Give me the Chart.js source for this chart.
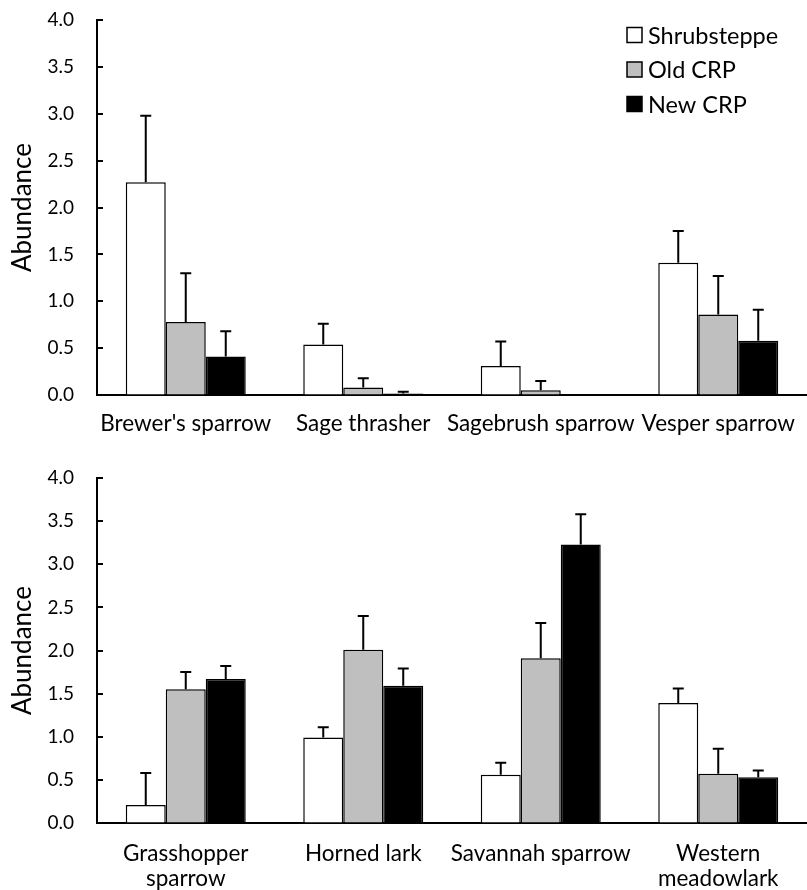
<!DOCTYPE html>
<html>
<head>
<meta charset="utf-8">
<script src="https://cdn.jsdelivr.net/npm/chart.js@4.4.1/dist/chart.umd.min.js"></script>
<style>
body { margin: 0; background: #fff; }
.wrap { position: absolute; left: 0; width: 807px; height: 445px; }
</style>
</head>
<body>
<div class="wrap" style="top:0"><canvas id="topChart" width="807" height="445"></canvas></div>
<div class="wrap" style="top:445px"><canvas id="bottomChart" width="807" height="445"></canvas></div>
<script>
var seriesNames = ['Shrubsteppe', 'Old CRP', 'New CRP'];
var seriesColors = ['#ffffff', '#bfbfbf', '#000000'];
var yTicks = [0, 0.5, 1, 1.5, 2, 2.5, 3, 3.5, 4];

// upper panel: shrubsteppe birds
var topSpecies = ["Brewer's sparrow", 'Sage thrasher', 'Sagebrush sparrow', 'Vesper sparrow'];
var topShrub = [2.27, 0.54, 0.31, 1.41];
var topShrubErr = [0.71, 0.22, 0.26, 0.34];
var topOld = [0.78, 0.08, 0.05, 0.86];
var topOldErr = [0.52, 0.10, 0.10, 0.41];
var topNew = [0.41, 0.015, 0, 0.58];
var topNewErr = [0.27, 0.02, 0, 0.33];

// lower panel: grassland birds
var bottomSpecies = [['Grasshopper', 'sparrow'], 'Horned lark', 'Savannah sparrow', ['Western', 'meadowlark']];
var bottomShrub = [0.21, 0.99, 0.56, 1.39];
var bottomShrubErr = [0.37, 0.12, 0.14, 0.17];
var bottomOld = [1.55, 2.01, 1.91, 0.57];
var bottomOldErr = [0.20, 0.39, 0.41, 0.29];
var bottomNew = [1.67, 1.59, 3.23, 0.53];
var bottomNewErr = [0.15, 0.20, 0.35, 0.08];

var FONT = 'Lato, "Noto Sans", sans-serif';
var CLEAR = 'rgba(0,0,0,0)';

var errorBars = {
    id: 'errorBars',
    afterDatasetsDraw: function(chart) {
        var ctx = chart.ctx;
        var yScale = chart.scales.y;
        ctx.save();
        ctx.strokeStyle = '#000';
        ctx.lineWidth = 2;
        chart.data.datasets.forEach(function(ds, i) {
            var meta = chart.getDatasetMeta(i);
            meta.data.forEach(function(bar, j) {
                var err = ds.errors[j];
                if (!err) return;
                var top = yScale.getPixelForValue(ds.data[j] + err);
                ctx.beginPath();
                ctx.moveTo(bar.x, bar.y);
                ctx.lineTo(bar.x, top);
                ctx.moveTo(bar.x - 5.5, top);
                ctx.lineTo(bar.x + 5.5, top);
                ctx.stroke();
            });
        });
        ctx.restore();
    }
};

// short tick marks pointing into the plot
var innerTicks = {
    id: 'innerTicks',
    afterDraw: function(chart) {
        var ctx = chart.ctx;
        var yScale = chart.scales.y;
        var left = chart.chartArea.left;
        ctx.save();
        ctx.strokeStyle = '#000';
        ctx.lineWidth = 2;
        yScale.ticks.forEach(function(t) {
            var py = Math.round(yScale.getPixelForValue(t.value));
            ctx.beginPath();
            ctx.moveTo(left, py);
            ctx.lineTo(left + 6, py);
            ctx.stroke();
        });
        ctx.restore();
    }
};

var boxLegend = {
    id: 'boxLegend',
    afterDraw: function(chart) {
        if (!chart.options.plugins.boxLegend.show) return;
        var ctx = chart.ctx;
        ctx.save();
        ctx.font = '23.5px ' + FONT;
        ctx.textBaseline = 'middle';
        chart.data.datasets.forEach(function(ds, i) {
            var cy = 35 + i * 34.5;
            ctx.fillStyle = ds.backgroundColor;
            ctx.fillRect(627, cy - 7.5, 15, 15);
            ctx.strokeStyle = '#000';
            ctx.lineWidth = 1.5;
            ctx.strokeRect(627, cy - 7.5, 15, 15);
            ctx.fillStyle = '#000';
            ctx.fillText(ds.label, 648, cy + 1);
        });
        ctx.restore();
    }
};

function makeDatasets(values, errors) {
    return values.map(function(v, i) {
        return {
            label: seriesNames[i],
            data: v,
            errors: errors[i],
            backgroundColor: seriesColors[i],
            borderColor: '#000',
            borderWidth: 1.5,
            categoryPercentage: 0.676,
            barPercentage: 1.0
        };
    });
}

function makeChart(id, labels, values, errors, padTop, axisHeight, labelGap, showLegend) {
    var ctx = document.getElementById(id).getContext('2d');
    return new Chart(ctx, {
        type: 'bar',
        data: { labels: labels, datasets: makeDatasets(values, errors) },
        options: {
            responsive: false,
            animation: false,
            layout: { padding: { top: padTop, left: 0, right: 0, bottom: 0 } },
            plugins: {
                legend: { display: false },
                tooltip: { enabled: false },
                boxLegend: { show: showLegend }
            },
            scales: {
                x: {
                    // invisible tick marks only serve as the gap under the axis
                    grid: { color: CLEAR, drawOnChartArea: false, drawTicks: true, tickLength: labelGap },
                    border: { display: true, color: '#000', width: 2 },
                    ticks: {
                        color: '#000',
                        padding: 0,
                        maxRotation: 0,
                        autoSkip: false,
                        font: { family: FONT, size: 22.5, lineHeight: 1.08 }
                    },
                    afterFit: function(scale) { scale.height = axisHeight; }
                },
                y: {
                    min: 0,
                    max: 4,
                    grid: { color: CLEAR, drawOnChartArea: false, drawTicks: true, tickLength: 23 },
                    border: { display: true, color: '#000', width: 2 },
                    afterBuildTicks: function(scale) {
                        scale.ticks = yTicks.map(function(v) { return { value: v }; });
                    },
                    ticks: {
                        color: '#000',
                        padding: 0,
                        font: { family: FONT, size: 19 },
                        callback: function(v) { return Number(v).toFixed(1); }
                    },
                    title: {
                        display: true,
                        text: 'Abundance',
                        color: '#000',
                        padding: { top: 7, bottom: 0 },
                        font: { family: FONT, size: 26 }
                    },
                    afterFit: function(scale) { scale.width = 97; }
                }
            }
        },
        plugins: [errorBars, innerTicks, boxLegend]
    });
}

makeChart('topChart', topSpecies,
    [topShrub, topOld, topNew],
    [topShrubErr, topOldErr, topNewErr],
    20, 50, 17, true);

makeChart('bottomChart', bottomSpecies,
    [bottomShrub, bottomOld, bottomNew],
    [bottomShrubErr, bottomOldErr, bottomNewErr],
    33, 67, 19, false);
</script>
</body>
</html>
